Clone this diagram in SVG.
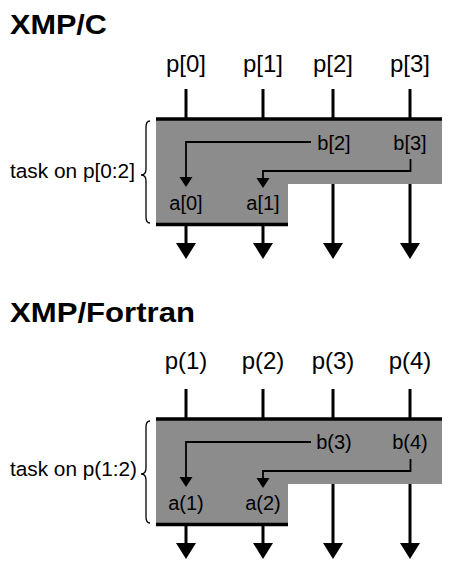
<svg xmlns="http://www.w3.org/2000/svg" width="450" height="570" viewBox="0 0 450 570">
<style>
text{font-family:"Liberation Sans",Arial,sans-serif;fill:#000}
.title{font-size:28px;font-weight:bold}
.p{font-size:24px;text-anchor:middle}
.v{font-size:20px;text-anchor:middle}
.task{font-size:20.5px}
.thick{stroke:#000;stroke-width:3;fill:none}
.bar{stroke:#000;stroke-width:3.5;fill:none}
.thin{stroke:#000;stroke-width:1.8;fill:none}
.brace{stroke:#000;stroke-width:1.3;fill:none}
.box{fill:#8c8c8c}
</style>
<defs>
<path id="big" d="M-10,0 L10,0 L0,16 Z" fill="#000"/>
<path id="small" d="M-6.5,0 L6.5,0 L0,10 Z" fill="#000"/>
</defs>

<g id="sectionC">
<text class="title" x="10" y="34" textLength="97" lengthAdjust="spacingAndGlyphs">XMP/C</text>
<g id="taskC">
<polygon class="box" points="156,119 442,119 442,184 288,184 288,224 156,224"/>
<line class="bar" x1="156" y1="119" x2="442" y2="119"/>
<line class="bar" x1="156" y1="224.5" x2="288" y2="224.5"/>
<path class="brace" d="M150,121 Q146,121 146,127 L146,169 Q146,175 141,175 Q146,175 146,181 L146,217 Q146,223 150,223"/>
<text class="task" x="10" y="178" textLength="125" lengthAdjust="spacingAndGlyphs">task on p[0:2]</text>
</g>
<g id="pC0"><text class="p" x="186" y="72">p[0]</text></g>
<g id="pC1"><text class="p" x="263" y="72">p[1]</text></g>
<g id="pC2"><text class="p" x="333" y="72">p[2]</text></g>
<g id="pC3"><text class="p" x="410" y="72">p[3]</text></g>
<g id="bC2"><text class="v" x="334" y="150">b[2]</text></g>
<g id="bC3"><text class="v" x="410" y="150">b[3]</text></g>
<g id="aC0"><text class="v" x="186" y="210">a[0]</text></g>
<g id="aC1"><text class="v" x="263" y="210">a[1]</text></g>
<g id="connC">
<line class="thick" x1="186" y1="89" x2="186" y2="118"/>
<line class="thick" x1="263" y1="89" x2="263" y2="118"/>
<line class="thick" x1="333" y1="89" x2="333" y2="118"/>
<line class="thick" x1="410" y1="89" x2="410" y2="118"/>
<line class="thick" x1="186" y1="226" x2="186" y2="244"/>
<line class="thick" x1="263" y1="226" x2="263" y2="244"/>
<line class="thick" x1="333" y1="184" x2="333" y2="244"/>
<line class="thick" x1="410" y1="184" x2="410" y2="244"/>
<use href="#big" x="186" y="243"/>
<use href="#big" x="263" y="243"/>
<use href="#big" x="333" y="243"/>
<use href="#big" x="410" y="243"/>
<polyline class="thin" points="311,142 186,142 186,178"/>
<use href="#small" x="186" y="177"/>
<polyline class="thin" points="410.5,159 410.5,171 263,171 263,178"/>
<use href="#small" x="263" y="178"/>
</g>
</g>

<g id="sectionF">
<text class="title" x="10" y="322" textLength="185" lengthAdjust="spacingAndGlyphs">XMP/Fortran</text>
<g id="taskF">
<polygon class="box" points="156,419 442,419 442,484 288,484 288,524 156,524"/>
<line class="bar" x1="156" y1="419" x2="442" y2="419"/>
<line class="bar" x1="156" y1="524.5" x2="288" y2="524.5"/>
<path class="brace" d="M150,421 Q146,421 146,427 L146,468 Q146,474 141,474 Q146,474 146,480 L146,517 Q146,523 150,523"/>
<text class="task" x="10" y="476" textLength="127" lengthAdjust="spacingAndGlyphs">task on p(1:2)</text>
</g>
<g id="pF1"><text class="p" x="186" y="369">p(1)</text></g>
<g id="pF2"><text class="p" x="263" y="369">p(2)</text></g>
<g id="pF3"><text class="p" x="333" y="369">p(3)</text></g>
<g id="pF4"><text class="p" x="410" y="369">p(4)</text></g>
<g id="bF3"><text class="v" x="334" y="449">b(3)</text></g>
<g id="bF4"><text class="v" x="410" y="449">b(4)</text></g>
<g id="aF1"><text class="v" x="186" y="510">a(1)</text></g>
<g id="aF2"><text class="v" x="263" y="510">a(2)</text></g>
<g id="connF">
<line class="thick" x1="186" y1="389" x2="186" y2="418"/>
<line class="thick" x1="263" y1="389" x2="263" y2="418"/>
<line class="thick" x1="333" y1="389" x2="333" y2="418"/>
<line class="thick" x1="410" y1="389" x2="410" y2="418"/>
<line class="thick" x1="186" y1="526" x2="186" y2="544"/>
<line class="thick" x1="263" y1="526" x2="263" y2="544"/>
<line class="thick" x1="333" y1="484" x2="333" y2="544"/>
<line class="thick" x1="410" y1="484" x2="410" y2="544"/>
<use href="#big" x="186" y="543"/>
<use href="#big" x="263" y="543"/>
<use href="#big" x="333" y="543"/>
<use href="#big" x="410" y="543"/>
<polyline class="thin" points="311,442 186,442 186,478"/>
<use href="#small" x="186" y="477"/>
<polyline class="thin" points="410.5,459 410.5,471 263,471 263,478"/>
<use href="#small" x="263" y="478"/>
</g>
</g>
</svg>
